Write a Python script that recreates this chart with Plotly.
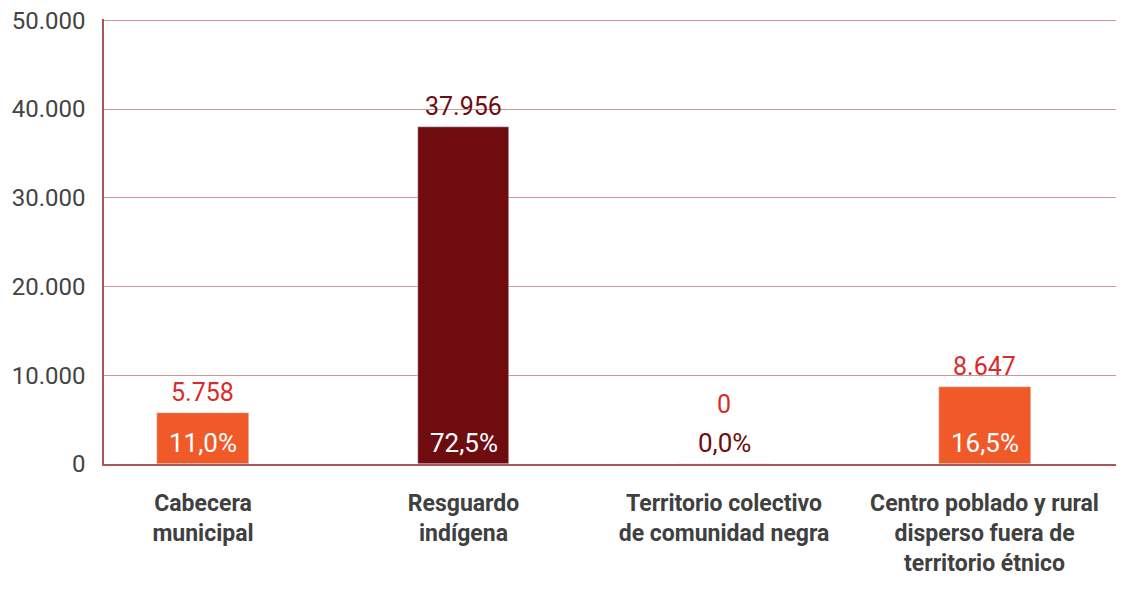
import plotly.graph_objects as go

categories = ["Cabecera<br>municipal", "Resguardo<br>indígena",
              "Territorio colectivo<br>de comunidad negra",
              "Centro poblado y rural<br>disperso fuera de<br>territorio étnico"]
values = [5758, 37956, 0, 8647]
value_labels = ["5.758", "37.956", "0", "8.647"]
pct_labels = ["11,0%", "72,5%", "0,0%", "16,5%"]
y_ticks = [0, 10000, 20000, 30000, 40000, 50000]
y_tick_labels = ["0", "10.000", "20.000", "30.000", "40.000", "50.000"]

ORANGE = "#f05a28"
DARK = "#6e0c10"
RED = "#d92b2b"
bar_colors = [ORANGE, DARK, ORANGE, ORANGE]
num_colors = [RED, DARK, RED, RED]

FONT = "Roboto, sans-serif"

fig = go.Figure()
fig.add_trace(go.Bar(x=categories, y=values, marker_color=bar_colors,
                     width=0.353, hoverinfo="skip"))

annotations = []
for cat, v, nl, pl, nc in zip(categories, values, value_labels, pct_labels, num_colors):
    inside = v > 3000
    annotations.append(dict(x=cat, y=0, yref="y", xref="x", text=pl, showarrow=False,
                            yanchor="bottom", yshift=4,
                            font=dict(family=FONT, size=26,
                                      color="white" if inside else DARK)))
    annotations.append(dict(x=cat, y=v, yref="y", xref="x", text=nl, showarrow=False,
                            yanchor="bottom", yshift=4 if inside else 43,
                            font=dict(family=FONT, size=25, color=nc)))

fig.update_layout(
    width=1124, height=592,
    margin=dict(l=96, r=12, t=11, b=136),
    plot_bgcolor="white", paper_bgcolor="white",
    showlegend=False,
    bargap=0,
    annotations=annotations,
    font=dict(family=FONT, color="#444444"),
)
fig.update_yaxes(range=[0, 50150], tickvals=y_ticks, ticktext=y_tick_labels,
                 showgrid=True, gridcolor="#c89898", gridwidth=1,
                 showline=True, linecolor="#a85858", linewidth=1.5,
                 zeroline=False, ticks="", ticklabelstandoff=12, automargin=False,
                 ticklabeloverflow="allow",
                 tickfont=dict(family=FONT, size=24, color="#444444"))
fig.update_xaxes(range=[-0.38, 3.52], showgrid=False,
                 showline=True, linecolor="#a85858", linewidth=1.5,
                 ticks="", ticklabelstandoff=18, automargin=False,
                 tickfont=dict(family=FONT, size=23, color="#404040", weight="bold"))

fig.write_html("out.html")
